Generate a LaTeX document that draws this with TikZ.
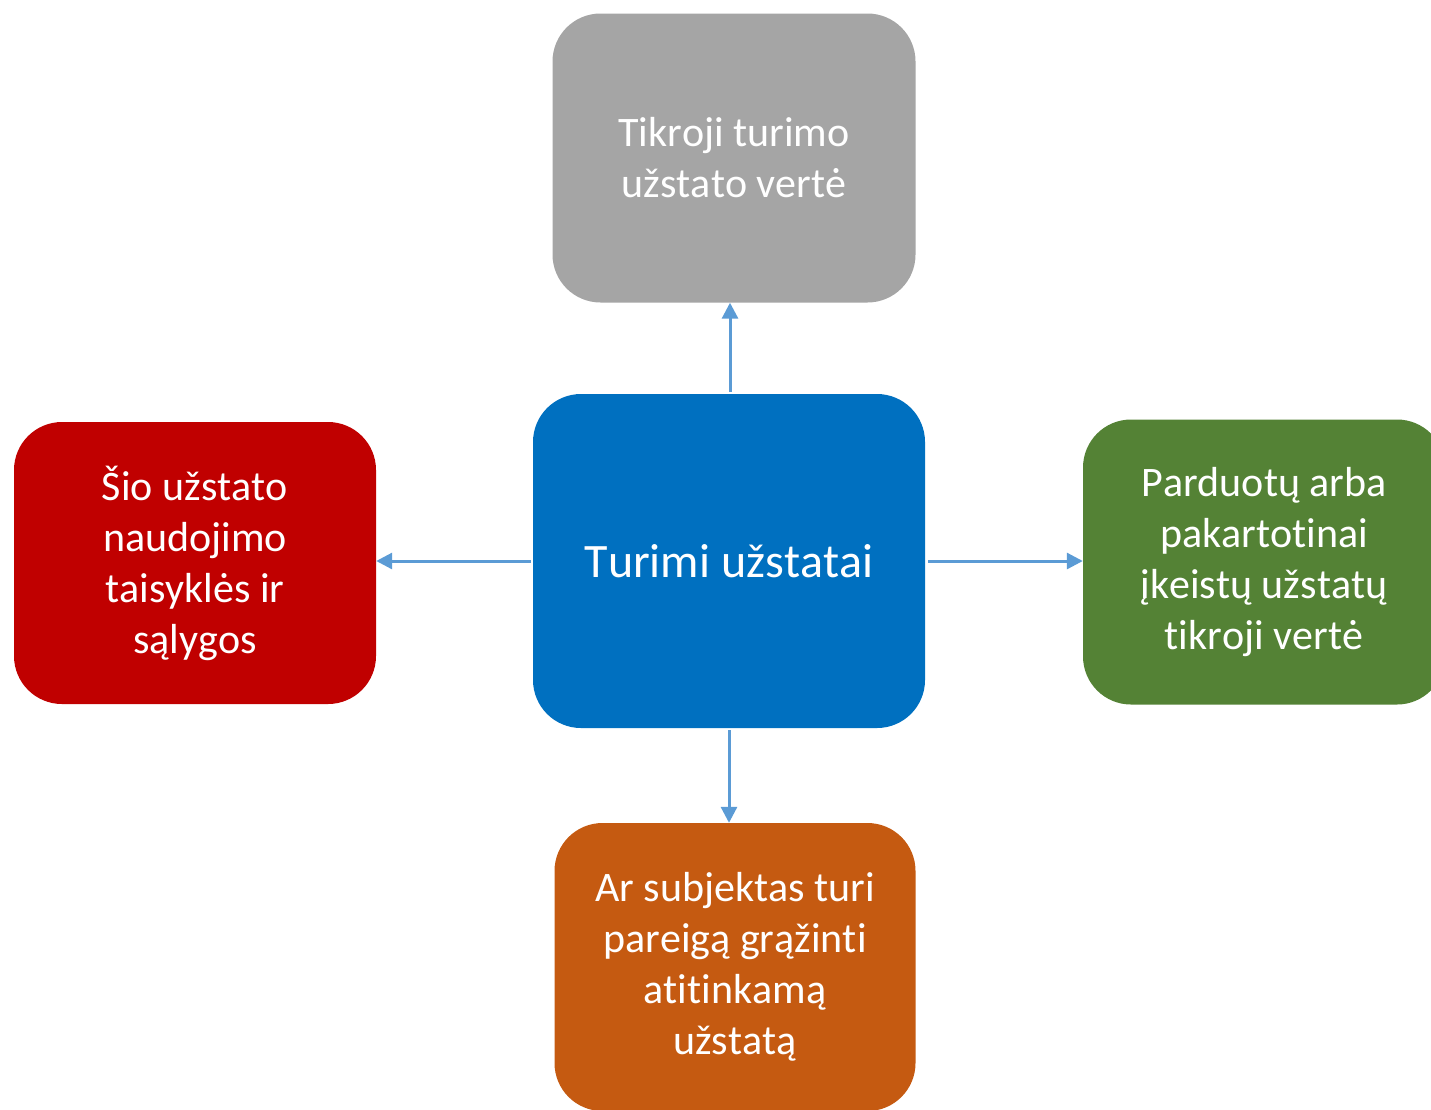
\documentclass[tikz,border=0pt]{standalone}
\usepackage{fontspec}
\setmainfont{Carlito}[Ligatures={NoCommon,NoContextual,NoRequired},Kerning=Off]
\usetikzlibrary{arrows.meta}
\definecolor{cgray}{HTML}{A5A5A5}
\definecolor{cblue}{HTML}{0070C0}
\definecolor{cred}{HTML}{C00000}
\definecolor{cgreen}{HTML}{548235}
\definecolor{corange}{HTML}{C55A11}
\definecolor{carrow}{HTML}{5B9BD5}
\begin{document}
\begin{tikzpicture}[x=1pt,y=-1pt,
  box/.style={rounded corners=48pt, inner sep=0pt, text=white, align=center,
    font=\fontsize{42}{51}\selectfont, draw=none},
  conn/.style={draw=carrow, line width=3pt, -{Triangle[length=16pt,width=16pt]}}]
\useasboundingbox (0,0) rectangle (1431,1109);
\clip (0,0) rectangle (1431,1109);
\node[box, fill=cblue, minimum width=392pt, minimum height=334pt, font=\fontsize{48}{58}\selectfont] (c) at (729,561) {Turimi užstatai};
\node[box, fill=cgray, minimum width=363pt, minimum height=289pt] (t) at (734,158) {Tikroji turimo\\užstato vertė};
\node[box, fill=cred, minimum width=362pt, minimum height=282pt] (l) at (195,563) {Šio užstato\\naudojimo\\taisyklės ir\\sąlygos};
\node[box, fill=cgreen, minimum width=362pt, minimum height=285pt] (r) at (1264,562) {Parduotų arba\\pakartotinai\\įkeistų užstatų\\tikroji vertė};
\node[box, fill=corange, minimum width=361pt, minimum height=288pt] (b) at (735,967) {Ar subjektas turi\\pareigą grąžinti\\atitinkamą\\užstatą};
\draw[conn, shorten <=2pt] (c.north -| t.south) ++(-4,0) coordinate (a1) -- (a1 |- t.south);
\draw[conn, shorten <=2pt] (c.west) -- (c.west -| l.east);
\draw[conn, shorten <=3pt] (c.east) -- (c.east -| r.west);
\draw[conn, shorten <=2pt] (c.south) -- (c.south |- b.north);
\end{tikzpicture}
\end{document}
